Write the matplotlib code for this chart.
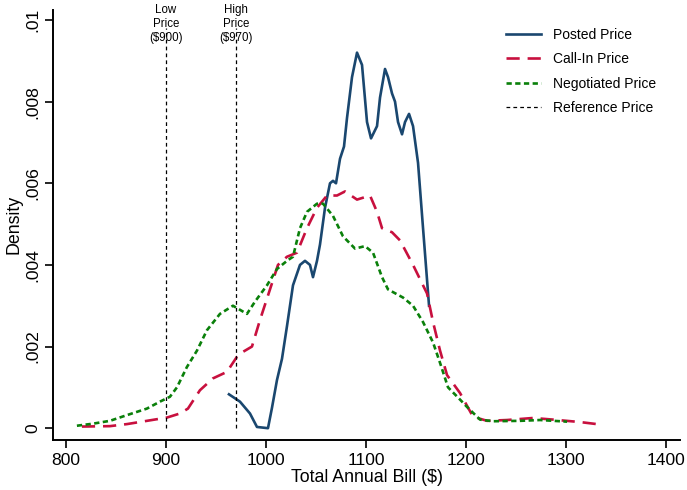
import matplotlib.pyplot as plt

plt.rcParams['font.family'] = ['Liberation Sans', 'DejaVu Sans']

# kernel density curves (bill in $, density)
posted_x = [963, 974, 984, 991, 1002, 1006, 1011, 1016, 1021, 1027, 1034, 1039, 1044, 1047,
            1051, 1054, 1059, 1064, 1067, 1070, 1074, 1078, 1081, 1086, 1091, 1096, 1101,
            1105, 1111, 1114, 1119, 1122, 1126, 1129, 1132, 1136, 1139, 1143, 1147, 1152,
            1157, 1163]
posted_y = [0.00083, 0.00065, 0.00036, 0.00003, 0.0, 0.0005, 0.00118, 0.0017, 0.0025, 0.0035,
            0.0040, 0.0041, 0.0040, 0.0037, 0.0041, 0.0045, 0.0054, 0.0060, 0.00606, 0.0060,
            0.0066, 0.0069, 0.0076, 0.0086, 0.0092, 0.0089, 0.0075, 0.0071, 0.0074, 0.0081,
            0.0088, 0.0086, 0.0082, 0.0080, 0.0075, 0.0072, 0.0075, 0.0077, 0.0074, 0.0065,
            0.0049, 0.0030]

callin_x = [816, 844, 861, 881, 901, 914, 922, 934, 947, 961, 971, 977, 986, 994, 1004, 1012,
            1021, 1031, 1041, 1051, 1061, 1071, 1079, 1091, 1104, 1111, 1116, 1126, 1134,
            1147, 1161, 1167, 1174, 1181, 1194, 1207, 1221, 1241, 1267, 1287, 1314, 1334]
callin_y = [0.00004, 0.00005, 0.0001, 0.00018, 0.00026, 0.00036, 0.00048, 0.00093, 0.00122,
            0.00138, 0.00175, 0.00187, 0.002, 0.00265, 0.0034, 0.0040, 0.0042, 0.0043, 0.0049,
            0.0054, 0.0057, 0.0057, 0.0058, 0.0056, 0.0057, 0.0053, 0.0049, 0.0048, 0.0046,
            0.0040, 0.0033, 0.0026, 0.0019, 0.0013, 0.00086, 0.00028, 0.00018, 0.0002,
            0.00025, 0.00021, 0.00015, 0.00009]

negot_x = [811, 827, 844, 861, 881, 894, 904, 911, 921, 931, 941, 954, 967, 974, 981, 989,
           1001, 1011, 1021, 1027, 1034, 1041, 1051, 1057, 1067, 1077, 1089, 1099, 1107, 1116,
           1122, 1137, 1147, 1157, 1167, 1174, 1182, 1194, 1201, 1214, 1227, 1254, 1274, 1301]
negot_y = [0.00006, 0.00011, 0.00018, 0.00032, 0.00048, 0.00065, 0.00077, 0.0010, 0.0015,
           0.0019, 0.0024, 0.0028, 0.0030, 0.0029, 0.0028, 0.0031, 0.0035, 0.0039, 0.0041,
           0.0042, 0.0049, 0.0053, 0.0055, 0.0055, 0.0052, 0.0047, 0.0044, 0.00446, 0.0043,
           0.0037, 0.0034, 0.0032, 0.0030, 0.0026, 0.0021, 0.0016, 0.0010, 0.0007, 0.00052,
           0.00021, 0.00017, 0.00018, 0.0002, 0.00016]

ref_prices = [900, 970]
ref_labels = ['Low\nPrice\n($900)', 'High\nPrice\n($970)']

xticks = [800, 900, 1000, 1100, 1200, 1300, 1400]
yticks = [0, 0.002, 0.004, 0.006, 0.008, 0.01]
ytick_labels = ['0', '.002', '.004', '.006', '.008', '.01']

fig = plt.figure(figsize=(6.87, 4.9), dpi=100)
ax = fig.add_axes([0.077, 0.102, 0.913, 0.878])

ax.plot(posted_x, posted_y, color='#1a476f', lw=1.9, label='Posted Price')
ax.plot(callin_x, callin_y, color='#c8103e', lw=1.9, dashes=(5, 3), label='Call-In Price')
ax.plot(negot_x, negot_y, color='#0a800a', lw=1.9, dashes=(2, 1.3), label='Negotiated Price')
for i, p in enumerate(ref_prices):
    ax.plot([p, p], [0, 0.0098], color='black', lw=0.9, dashes=(3, 2.5),
            label='Reference Price' if i == 0 else None)
    ax.text(p, 0.0104, ref_labels[i], ha='center', va='top', fontsize=8.3,
            linespacing=1.22)

ax.set_xlim(787, 1414)
ax.set_ylim(-0.00029, 0.01025)
ax.set_xticks(xticks)
ax.set_yticks(yticks)
ax.set_yticklabels(ytick_labels, rotation=90, va='center')
ax.tick_params(direction='out', length=6, width=1.2, labelsize=12.6, pad=3)
for s in ['top', 'right']:
    ax.spines[s].set_visible(False)
for s in ['left', 'bottom']:
    ax.spines[s].set_linewidth(1.4)
ax.set_xlabel('Total Annual Bill ($)', fontsize=12.8, labelpad=1)
ax.set_ylabel('Density', fontsize=12.8, labelpad=2)

ax.legend(loc='upper right', bbox_to_anchor=(0.982, 0.987), frameon=False, fontsize=10,
          handlelength=2.5, labelspacing=0.75, handletextpad=0.9)

fig.savefig('out.png', dpi=100)
